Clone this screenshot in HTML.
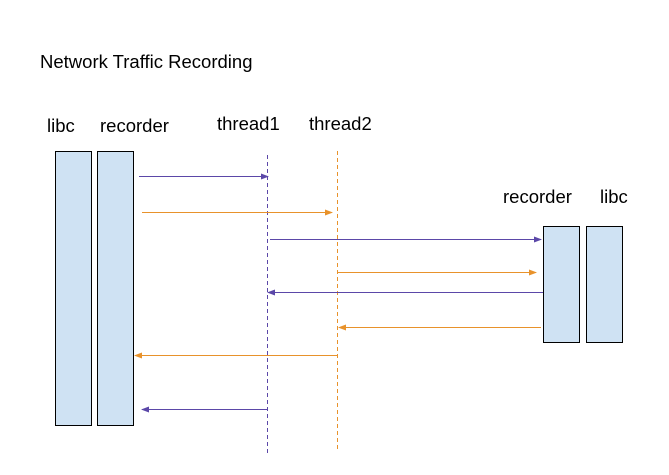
<!DOCTYPE html>
<html><head><meta charset="utf-8"><style>
body{margin:0;background:#fff}
svg text{font-family:"Liberation Sans",Arial,sans-serif;font-size:18.5px;fill:#000}
</style></head><body>
<svg width="669" height="470" viewBox="0 0 669 470" xmlns="http://www.w3.org/2000/svg">
<defs>
<marker id="ap" markerWidth="8" markerHeight="6" refX="7" refY="3" orient="auto" markerUnits="userSpaceOnUse"><path d="M0,0 L8,3 L0,6 z" fill="#5b47a8"/></marker>
<marker id="ao" markerWidth="8" markerHeight="6" refX="7" refY="3" orient="auto" markerUnits="userSpaceOnUse"><path d="M0,0 L8,3 L0,6 z" fill="#e8922b"/></marker>
</defs>
<text x="40" y="68">Network Traffic Recording</text>
<text x="47" y="132">libc</text>
<text x="100" y="132">recorder</text>
<text x="217" y="130">thread1</text>
<text x="309" y="130">thread2</text>
<text x="503" y="203">recorder</text>
<text x="600" y="203">libc</text>
<rect x="55.5" y="151.5" width="36" height="274" fill="#cfe2f3" stroke="#000" stroke-width="1"/>
<rect x="97.5" y="151.5" width="36" height="274" fill="#cfe2f3" stroke="#000" stroke-width="1"/>
<rect x="543.5" y="226.5" width="36" height="116" fill="#cfe2f3" stroke="#000" stroke-width="1"/>
<rect x="586.5" y="226.5" width="36" height="116" fill="#cfe2f3" stroke="#000" stroke-width="1"/>
<line x1="267.5" y1="155" x2="267.5" y2="453" stroke="#5b47a8" stroke-dasharray="4,3" stroke-width="1"/>
<line x1="337.5" y1="151" x2="337.5" y2="451" stroke="#e8922b" stroke-dasharray="4,3" stroke-width="1"/>
<g stroke-width="1">
<line x1="139" y1="176.5" x2="268" y2="176.5" stroke="#5b47a8" marker-end="url(#ap)"/>
<line x1="142" y1="212.5" x2="332" y2="212.5" stroke="#e8922b" marker-end="url(#ao)"/>
<line x1="270" y1="239.5" x2="541" y2="239.5" stroke="#5b47a8" marker-end="url(#ap)"/>
<line x1="337" y1="272.5" x2="536" y2="272.5" stroke="#e8922b" marker-end="url(#ao)"/>
<line x1="543" y1="292.5" x2="268" y2="292.5" stroke="#5b47a8" marker-end="url(#ap)"/>
<line x1="541" y1="327.5" x2="339" y2="327.5" stroke="#e8922b" marker-end="url(#ao)"/>
<line x1="337" y1="355.5" x2="135" y2="355.5" stroke="#e8922b" marker-end="url(#ao)"/>
<line x1="267" y1="409.5" x2="142" y2="409.5" stroke="#5b47a8" marker-end="url(#ap)"/>
</g>
</svg>
</body></html>
